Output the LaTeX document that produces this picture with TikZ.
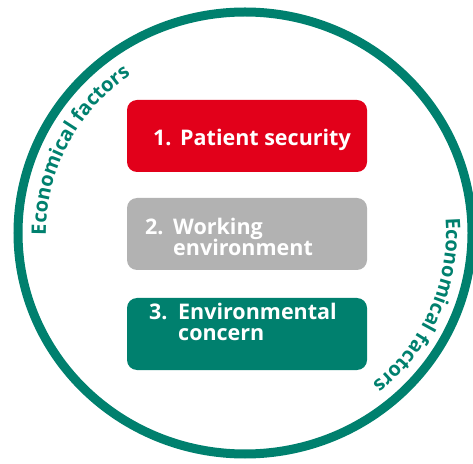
\documentclass[tikz,border=0pt]{standalone}
\usepackage{fontspec}
\setmainfont{Open Sans}
\usetikzlibrary{decorations.text}
\definecolor{ecored}{HTML}{E2001A}
\definecolor{ecogray}{HTML}{B2B2B2}
\definecolor{ecoteal}{HTML}{00806E}
\tikzset{
  box/.style={fill=#1, rounded corners=10pt, draw=none},
  boxtext/.style={text=white, font=\fontsize{21.5}{21.5}\selectfont\bfseries, inner sep=0pt, anchor=base west},
  arctext/.style={decorate, decoration={text along path, text align=center,
     text color=ecoteal,
     text={|\fontsize{20}{20}\selectfont\bfseries|Economical factors}}}
}
\begin{document}
\begin{tikzpicture}[x=1pt,y=1pt]
\useasboundingbox (0,0) rectangle (473,463);
% outer ring
\draw[ecoteal, line width=9pt] (245,230) ellipse[x radius=227, y radius=221];
% boxes
\fill[box=ecored] (127,291) rectangle (367,363);
\fill[box=ecogray] (127,193) rectangle (367,265);
\fill[box=ecoteal] (127,93) rectangle (367,165);
% texts
\node[boxtext] (n1) at (153,317) {1.};
\node[boxtext] (t1) at (180,317) {Patient security};
\node[boxtext] (n2) at (145,228) {2.};
\node[boxtext] (t2a) at (173,228) {Working};
\node[boxtext] (t2b) at (173,207.5) {environment};
\node[boxtext] (n3) at (149,143) {3.};
\node[boxtext] (t3a) at (178,143) {Environmental};
\node[boxtext] (t3b) at (178,123) {concern};
% curved labels
\path[arctext] (245,230) ++(198:199 and 193) arc[start angle=198, end angle=108, x radius=199, y radius=193];
\path[arctext] (245,230) ++(22:201 and 195) arc[start angle=22, end angle=-68, x radius=201, y radius=195];
\end{tikzpicture}
\end{document}
